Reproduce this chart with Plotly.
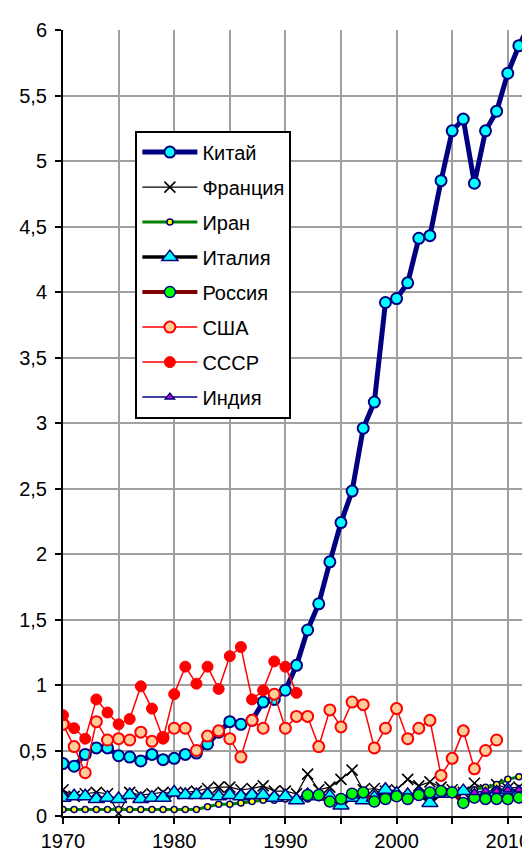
import plotly.graph_objects as go

years = list(range(1970, 2013))

china = [0.40, 0.38, 0.47, 0.52, 0.52, 0.46, 0.45, 0.42, 0.47, 0.43,
         0.44, 0.47, 0.48, 0.55, 0.64, 0.72, 0.70, 0.73, 0.87, 0.89,
         0.96, 1.15, 1.42, 1.62, 1.94, 2.24, 2.48, 2.96, 3.16, 3.92,
         3.95, 4.07, 4.41, 4.43, 4.85, 5.23, 5.32, 4.83, 5.23, 5.38,
         5.67, 5.88, 6.05]

france = [0.20, 0.15, 0.17, 0.18, 0.17, 0.02, 0.18, 0.16, 0.17, 0.18,
          0.17, 0.18, 0.19, 0.21, 0.22, 0.22, 0.20, 0.21, 0.23, 0.19,
          0.19, 0.17, 0.32, 0.20, 0.22, 0.28, 0.35, 0.20, 0.21, 0.19,
          0.20, 0.28, 0.23, 0.26, 0.22, 0.20, 0.18, 0.25, 0.20, 0.24,
          0.21, 0.22, 0.20]

iran = [0.05, 0.05, 0.05, 0.05, 0.05, 0.05, 0.05, 0.05, 0.05, 0.05,
        0.05, 0.05, 0.05, 0.07, 0.09, 0.09, 0.10, 0.11, 0.12, 0.12,
        0.13, 0.13, 0.13, 0.14, 0.14, 0.14, 0.15, 0.15, 0.15, 0.16,
        0.16, 0.16, 0.17, 0.17, 0.18, 0.19, 0.19, 0.20, 0.22, 0.24,
        0.28, 0.30, 0.31]

italy = [0.14, 0.15, 0.15, 0.13, 0.14, 0.13, 0.16, 0.13, 0.14, 0.14,
         0.18, 0.16, 0.16, 0.16, 0.15, 0.16, 0.15, 0.16, 0.16, 0.14,
         0.15, 0.12, 0.16, 0.15, 0.15, 0.08, 0.14, 0.12, 0.14, 0.20,
         0.17, 0.16, 0.17, 0.10, 0.17, 0.17, 0.19, 0.15, 0.16, 0.18,
         0.20, 0.18, 0.18]

russia_years = list(range(1992, 2013))
russia = [0.16, 0.16, 0.11, 0.13, 0.17, 0.18, 0.11, 0.13, 0.15, 0.13,
          0.16, 0.18, 0.19, 0.18, 0.10, 0.14, 0.13, 0.13, 0.13, 0.14,
          0.15]

usa_years = list(range(1970, 2010))
usa = [0.70, 0.53, 0.33, 0.72, 0.58, 0.59, 0.58, 0.64, 0.57, 0.60,
       0.67, 0.67, 0.50, 0.61, 0.65, 0.59, 0.45, 0.73, 0.67, 0.93,
       0.67, 0.76, 0.76, 0.53, 0.81, 0.68, 0.87, 0.85, 0.52, 0.67,
       0.82, 0.59, 0.67, 0.73, 0.31, 0.44, 0.65, 0.36, 0.50, 0.58]

ussr_years = list(range(1970, 1992))
ussr = [0.77, 0.67, 0.59, 0.89, 0.79, 0.70, 0.74, 0.99, 0.82, 0.59,
        0.93, 1.14, 1.01, 1.14, 0.97, 1.22, 1.29, 0.89, 0.96, 1.18,
        1.14, 0.94]

india_years = list(range(2007, 2013))
india = [0.18, 0.19, 0.19, 0.20, 0.20, 0.20]

fig = go.Figure()

def add(name, x, y, lc, lw, symbol, msize, mfill, mline, mlw, grp):
    fig.add_trace(go.Scatter(
        x=x, y=y, name=name, mode="lines+markers", legendgroup=grp,
        line=dict(color=lc, width=lw),
        marker=dict(symbol=symbol, size=msize, color=mfill,
                    line=dict(color=mline, width=mlw)),
    ))

add("Китай", years, china, "#000080", 5, "circle", 11, "#00FFFF", "#000080", 2, "a")
add("Франция", years, france, "#000000", 1.2, "x-thin", 11, "#000000", "#000000", 1.6, "b")
add("Иран", years, iran, "#008000", 3, "circle", 6, "#FFFF00", "#000080", 1.5, "c")
add("Италия", years, italy, "#000000", 3.5, "triangle-up", 14, "#00FFFF", "#000080", 1.5, "d")
add("Россия", russia_years, russia, "#800000", 4, "circle", 11, "#00FF00", "#000080", 1.5, "e")
add("США", usa_years, usa, "#FF0000", 1.5, "circle", 11, "#FFCC99", "#FF0000", 2, "f")
add("СССР", ussr_years, ussr, "#FF0000", 1.5, "circle", 11, "#FF0000", "#FF0000", 1, "g")
add("Индия", india_years, india, "#000080", 1.5, "triangle-up", 8, "#CC00CC", "#000080", 1.5, "h")

grid = "#A0A0A0"
fig.update_layout(
    width=530, height=852,
    margin=dict(l=55, r=8, t=22, b=37),
    paper_bgcolor="white", plot_bgcolor="white",
    separators=", ",
    font=dict(family="Liberation Sans, Arial, sans-serif", size=20, color="black"),
    showlegend=True,
    legend=dict(
        x=0.155, y=0.872, xanchor="left", yanchor="top",
        bgcolor="white", bordercolor="black", borderwidth=2,
        font=dict(size=20), itemwidth=55, tracegroupgap=6,
        itemclick=False,
    ),
    xaxis=dict(
        range=[1970, 2012], dtick=10, tick0=1970,
        showgrid=True, gridcolor=grid, gridwidth=1.5,
        ticks="outside", ticklen=6, tickwidth=1.5, tickcolor="black",
        showline=True, linecolor="black", linewidth=2,
        minor=dict(dtick=5, tick0=1970, showgrid=True, gridcolor=grid, gridwidth=1.5,
                   ticks="outside", ticklen=6, tickwidth=1.5, tickcolor="black"),
        zeroline=False,
    ),
    yaxis=dict(
        range=[0, 6], dtick=0.5, tick0=0,
        showgrid=True, gridcolor=grid, gridwidth=1.5,
        ticks="outside", ticklen=6, tickwidth=1.5, tickcolor="black",
        showline=True, linecolor="black", linewidth=2,
        ticklabelstandoff=4,
        zeroline=False,
    ),
    shapes=[dict(type="line", xref="paper", yref="paper", x0=1, x1=1, y0=0, y1=1,
                 line=dict(color=grid, width=1.5), layer="below")],
)

fig.write_html("out.html")
